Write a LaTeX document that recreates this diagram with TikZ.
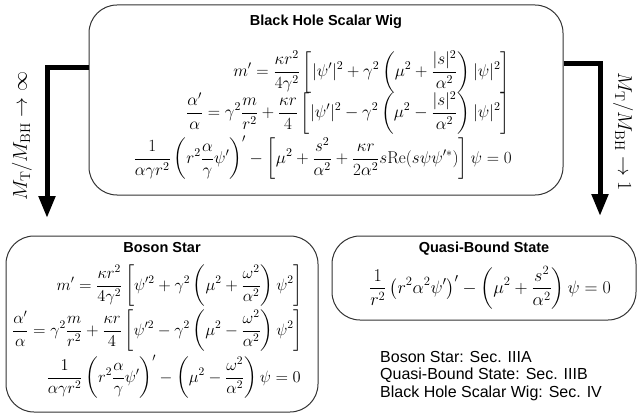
\RequirePackage{fix-cm}
\documentclass[tikz,border=0pt]{standalone}
\usepackage{amsmath}
\usepackage{fontspec}
\newfontfamily\arial{Liberation Sans}
\usetikzlibrary{arrows.meta}
\tikzset{
  box/.style={draw=black!80, line width=1pt, rounded corners=28pt, inner sep=0pt},
  eqa/.style={inner sep=0pt, font=\fontsize{17.1}{21}\selectfont},
  eqb/.style={inner sep=0pt, font=\fontsize{16.5}{20}\selectfont},
  eqc/.style={inner sep=0pt, font=\fontsize{18}{22}\selectfont},
  ttl/.style={inner sep=0pt, font=\arial\bfseries\fontsize{14.5}{17}\selectfont},
  sec/.style={inner sep=0pt, anchor=west, font=\arial\fontsize{16}{18}\selectfont},
  lbl/.style={inner sep=0pt, font=\fontsize{20}{24}\selectfont},
  bigarrow/.style={line width=5pt, line join=miter, -{Triangle[width=16pt,length=22pt]}}
}
\begin{document}
\begin{tikzpicture}[x=1pt,y=-1pt]
\useasboundingbox (0,0) rectangle (637,417);
% boxes
\node[box, minimum width=474pt, minimum height=190pt] (bh) at (326,100) {};
\node[box, minimum width=312pt, minimum height=176pt] (bs) at (162,324) {};
\node[box, minimum width=304pt, minimum height=84pt] (qb) at (484,278) {};
% titles
\node[ttl] (bht) at (326,22) {Black Hole Scalar Wig};
\node[ttl] (bst) at (162,248) {Boson Star};
\node[ttl] (qbt) at (484,249) {Quasi-Bound State};
% black hole equations
\node[eqa, anchor=east] (bh1) at (510,72) {$\displaystyle m' = \frac{\kappa r^2}{4\gamma^2}\left[|\psi'|^2+\gamma^2\left(\mu^2+\frac{|s|^2}{\alpha^2}\right)|\psi|^2\right]$};
\node[eqa, anchor=east] (bh2) at (510,113) {$\displaystyle \frac{\alpha'}{\alpha} = \gamma^2\frac{m}{r^2}+\frac{\kappa r}{4}\left[|\psi'|^2-\gamma^2\left(\mu^2-\frac{|s|^2}{\alpha^2}\right)|\psi|^2\right]$};
\node[eqa, anchor=east] (bh3) at (512,158) {$\displaystyle \frac{1}{\alpha\gamma r^2}\left(r^2\frac{\alpha}{\gamma}\psi'\right)' - \left[\mu^2+\frac{s^2}{\alpha^2}+\frac{\kappa r}{2\alpha^2}s\mathrm{Re}(s\psi\psi'^*)\right]\psi = 0$};
% boson star equations
\node[eqb, anchor=east] (bs1) at (303,286) {$\displaystyle m' = \frac{\kappa r^2}{4\gamma^2}\left[\psi'^2+\gamma^2\left(\mu^2+\frac{\omega^2}{\alpha^2}\right)\psi^2\right]$};
\node[eqb, anchor=east] (bs2) at (303,331) {$\displaystyle \frac{\alpha'}{\alpha} = \gamma^2\frac{m}{r^2}+\frac{\kappa r}{4}\left[\psi'^2-\gamma^2\left(\mu^2-\frac{\omega^2}{\alpha^2}\right)\psi^2\right]$};
\node[eqb, anchor=east] (bs3) at (301,377) {$\displaystyle \frac{1}{\alpha\gamma r^2}\left(r^2\frac{\alpha}{\gamma}\psi'\right)' - \left(\mu^2-\frac{\omega^2}{\alpha^2}\right)\psi = 0$};
% quasi-bound equation
\node[eqc] (qb1) at (490,288) {$\displaystyle \frac{1}{r^2}\left(r^2\alpha^2\psi'\right)' - \left(\mu^2+\frac{s^2}{\alpha^2}\right)\psi = 0$};
% sections
\node[sec] (s1) at (380,357) {Boson Star: Sec. IIIA};
\node[sec] (s2) at (380,375) {Quasi-Bound State: Sec. IIIB};
\node[sec] (s3) at (380,393) {Black Hole Scalar Wig: Sec. IV};
% arrows
\coordinate (la) at (47,218);
\coordinate (ra) at (600,216);
\draw[bigarrow] (bh.west |- 0,68) -| (la);
\draw[bigarrow] (bh.east |- 0,64) -| (ra);
\node[lbl, rotate=90] (ll) at (22,136) {$M_{\mathrm{T}}/M_{\mathrm{BH}}\to\infty$};
\node[lbl, rotate=-90] (rl) at (623,132) {$M_{\mathrm{T}}/M_{\mathrm{BH}}\to 1$};
\end{tikzpicture}
\end{document}
